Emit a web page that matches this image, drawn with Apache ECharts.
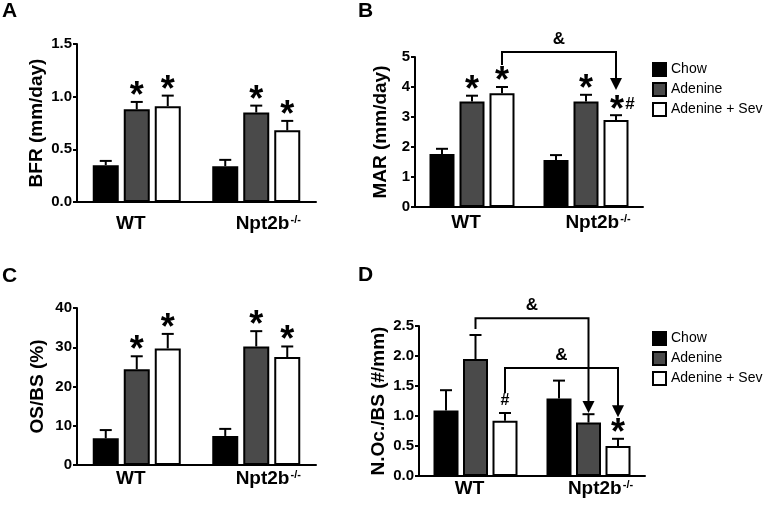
<!DOCTYPE html>
<html>
<head>
<meta charset="utf-8">
<script src="https://cdn.jsdelivr.net/npm/echarts@6/dist/echarts.min.js"></script>
<style>html,body{margin:0;padding:0;background:#fff;}#c{width:768px;height:506px;}</style>
</head>
<body>
<div id="c"></div>
<script>
// ---------- data ----------
const categories = ['WT', 'Npt2b'];
const groupNames = ['Chow', 'Adenine', 'Adenine + Sev'];

// Panel A: BFR (mm/day)   [WT, Npt2b]
const bfrChow = [0.35, 0.34];
const bfrAdenine = [0.88, 0.85];
const bfrSev = [0.91, 0.68];
const bfrChowSem = [0.04, 0.06];
const bfrAdenineSem = [0.07, 0.065];
const bfrSevSem = [0.10, 0.09];
const bfrMarks = [['', '*', '*'], ['', '*', '*']];
const bfrTicks = [0, 1.5, 0.5];

// Panel B: MAR (mm/day)
const marChow = [1.77, 1.57];
const marAdenine = [3.52, 3.52];
const marSev = [3.79, 2.90];
const marChowSem = [0.17, 0.16];
const marAdenineSem = [0.19, 0.22];
const marSevSem = [0.21, 0.16];
const marMarks = [['', '*', '*'], ['', '*', '*#']];
const marTicks = [0, 5, 1];
// bracket: [fromCat, fromBar, toCat, toBar, topValue, leftEndValue, arrowTipValue]
const marBrackets = [[0, 2, 1, 2, 5.17, 4.73, 3.9]];

// Panel C: OS/BS (%)
const osChow = [6.8, 7.4];
const osAdenine = [24.4, 30.2];
const osSev = [29.7, 27.5];
const osChowSem = [2.1, 1.8];
const osAdenineSem = [3.3, 3.9];
const osSevSem = [3.7, 2.7];
const osMarks = [['', '*', '*'], ['', '*', '*']];
const osTicks = [0, 40, 10];

// Panel D: N.Oc./BS (#/mm)
const nocChow = [1.09, 1.29];
const nocAdenine = [1.95, 0.89];
const nocSev = [0.92, 0.50];
const nocChowSem = [0.34, 0.30];
const nocAdenineSem = [0.40, 0.14];
const nocSevSem = [0.13, 0.12];
const nocMarks = [['', '', '#'], ['', '', '*']];
const nocTicks = [0, 2.5, 0.5];
const nocBrackets = [[0, 1, 1, 1, 2.63, 2.45, 1.05], [0, 2, 1, 2, 1.80, 1.38, 0.98]];

// ---------- styles ----------
const FONT = '"Liberation Sans", Arial, sans-serif';
const fills = ['#000000', '#4a4a4a', '#ffffff'];

const panels = [
  { grid: { left: 77, top: 44, width: 239, height: 158 }, name: 'BFR (mm/day)', nameGap: 31,
    means: [bfrChow, bfrAdenine, bfrSev], sems: [bfrChowSem, bfrAdenineSem, bfrSevSem],
    marks: bfrMarks, ticks: bfrTicks, dec: 1, bw: 26, step: 31, xMargin: 12, brackets: [] },
  { grid: { left: 415, top: 57, width: 228, height: 150 }, name: 'MAR (mm/day)', nameGap: 25,
    means: [marChow, marAdenine, marSev], sems: [marChowSem, marAdenineSem, marSevSem],
    marks: marMarks, ticks: marTicks, dec: 0, bw: 25, step: 30, xMargin: 6, brackets: marBrackets },
  { grid: { left: 77, top: 308, width: 239, height: 157 }, name: 'OS/BS (%)', nameGap: 30,
    means: [osChow, osAdenine, osSev], sems: [osChowSem, osAdenineSem, osSevSem],
    marks: osMarks, ticks: osTicks, dec: 0, bw: 26, step: 31, xMargin: 4, brackets: [] },
  { grid: { left: 419, top: 326, width: 226, height: 150 }, name: 'N.Oc./BS (#/mm)', nameGap: 31,
    means: [nocChow, nocAdenine, nocSev], sems: [nocChowSem, nocAdenineSem, nocSevSem],
    marks: nocMarks, ticks: nocTicks, dec: 1, bw: 25, step: 29.5, xMargin: 3, brackets: nocBrackets }
];

const grids = [], xAxes = [], yAxes = [], series = [];

panels.forEach((p, k) => {
  grids.push(p.grid);
  xAxes.push({
    type: 'category', gridIndex: k, data: categories,
    axisLine: { show: true, lineStyle: { color: '#000', width: 2 } },
    axisTick: { show: false },
    axisLabel: {
      margin: p.xMargin, color: '#000',
      formatter: v => v === 'Npt2b' ? '{n|Npt2b}{s|-/-}' : '{w|' + v + '}',
      rich: {
        w: { fontFamily: FONT, fontWeight: 'bold', fontSize: 19, lineHeight: 20, color: '#000', padding: [0, 12, 0, 0] },
        n: { fontFamily: FONT, fontWeight: 'bold', fontSize: 19, lineHeight: 20, color: '#000', padding: [0, 0, 0, 24] },
        s: { fontFamily: FONT, fontWeight: 'bold', fontSize: 11, verticalAlign: 'top', lineHeight: 20, color: '#000', padding: [0, 0, 8, 1] }
      }
    }
  });
  yAxes.push({
    type: 'value', gridIndex: k, min: p.ticks[0], max: p.ticks[1], interval: p.ticks[2],
    name: p.name, nameLocation: 'middle', nameRotate: 90, nameGap: p.nameGap,
    nameTextStyle: { fontFamily: FONT, fontWeight: 'bold', fontSize: 19, color: '#000' },
    axisLine: { show: true, lineStyle: { color: '#000', width: 2 } },
    axisTick: { show: true, length: 4, lineStyle: { color: '#000', width: 2 } },
    splitLine: { show: false },
    axisLabel: { margin: 5, color: '#000', fontFamily: FONT, fontWeight: 'bold', fontSize: 15,
      formatter: v => v.toFixed(p.dec) }
  });
  for (let j = 0; j < 3; j++) {
    series.push({
      type: 'bar', name: groupNames[j], xAxisIndex: k, yAxisIndex: k,
      data: p.means[j], barWidth: p.bw, barGap: ((p.step - p.bw) / p.bw * 100) + '%',
      itemStyle: { color: fills[j], borderColor: '#000', borderWidth: 2 },
      emphasis: { disabled: true }, animation: false, z: 2
    });
  }
  // error bars + significance marks
  const errData = [];
  for (let i = 0; i < 2; i++) for (let j = 0; j < 3; j++)
    errData.push([i, j, p.means[j][i], p.means[j][i] + p.sems[j][i]]);
  series.push({
    type: 'custom', xAxisIndex: k, yAxisIndex: k, data: errData, animation: false, z: 5,
    encode: { x: 0, y: [2, 3] },
    renderItem: (params, api) => {
      const i = api.value(0), j = api.value(1), m = api.value(2), t = api.value(3);
      const p0 = api.coord([i, m]), p1 = api.coord([i, t]);
      const x = p0[0] + (j - 1) * p.step;
      const ch = [
        { type: 'line', shape: { x1: x, y1: p0[1], x2: x, y2: p1[1] }, style: { stroke: '#000', lineWidth: 2 } },
        { type: 'line', shape: { x1: x - 6, y1: p1[1], x2: x + 6, y2: p1[1] }, style: { stroke: '#000', lineWidth: 2 } }
      ];
      const mk = p.marks[i][j];
      const star = (sx, sy) => ({ type: 'text', style: { text: '*', x: sx, y: sy, align: 'center', verticalAlign: 'middle',
        font: 'bold 36px ' + FONT, fill: '#000' } });
      const hash = (sx, sy, fs) => ({ type: 'text', style: { text: '#', x: sx, y: sy, align: 'center', verticalAlign: 'middle',
        font: 'bold ' + fs + 'px ' + FONT, fill: '#000' } });
      if (mk === '*') ch.push(star(x, p1[1] - 15 + 10));
      if (mk === '#') ch.push(hash(x, p1[1] - 12, 16));
      if (mk === '*#') { ch.push(star(x + 1, p1[1] - 14 + 10)); ch.push(hash(x + 14, p1[1] - 11, 17)); }
      return { type: 'group', children: ch };
    }
  });
  if (p.brackets.length) {
    series.push({
      type: 'custom', xAxisIndex: k, yAxisIndex: k, data: p.brackets, animation: false, z: 6, clip: false,
      encode: { x: 0, y: 4 },
      renderItem: (params, api) => {
        const fc = api.value(0), fb = api.value(1), tc = api.value(2), tb = api.value(3);
        const xa = api.coord([fc, 0])[0] + (fb - 1) * p.step;
        const xb = api.coord([tc, 0])[0] + (tb - 1) * p.step;
        const yT = api.coord([0, api.value(4)])[1];
        const yL = api.coord([0, api.value(5)])[1];
        const yR = api.coord([0, api.value(6)])[1];
        const ah = 12, aw = 6;
        return { type: 'group', children: [
          { type: 'polyline', shape: { points: [[xa, yL], [xa, yT], [xb, yT], [xb, yR - ah + 1]] },
            style: { stroke: '#000', lineWidth: 2, fill: null } },
          { type: 'polygon', shape: { points: [[xb - aw, yR - ah], [xb + aw, yR - ah], [xb, yR]] },
            style: { fill: '#000' } },
          { type: 'text', style: { text: '&', x: (xa + xb) / 2, y: yT - 13, align: 'center', verticalAlign: 'middle',
            font: 'bold 17px ' + FONT, fill: '#000' } }
        ] };
      }
    });
  }
});

const legendBase = {
  orient: 'vertical', data: groupNames, icon: 'rect', itemWidth: 13, itemHeight: 13, itemGap: 5,
  padding: 0, selectedMode: false, textStyle: { fontFamily: FONT, fontSize: 14, color: '#000' },
  itemStyle: { borderWidth: 2, borderColor: '#000' }
};

const letter = (t, x, y) => ({ type: 'text', left: x, top: y,
  style: { text: t, font: 'bold 21px ' + FONT, fill: '#000' } });

const chart = echarts.init(document.getElementById('c'), null, { renderer: 'canvas' });
chart.setOption({
  backgroundColor: '#fff',
  animation: false,
  grid: grids, xAxis: xAxes, yAxis: yAxes, series: series,
  legend: [
    Object.assign({}, legendBase, { left: 652, top: 62 }),
    Object.assign({}, legendBase, { left: 652, top: 331 })
  ],
  graphic: [letter('A', 2, 1), letter('B', 358, 1), letter('C', 2, 266), letter('D', 358, 265)]
});
</script>
</body>
</html>
